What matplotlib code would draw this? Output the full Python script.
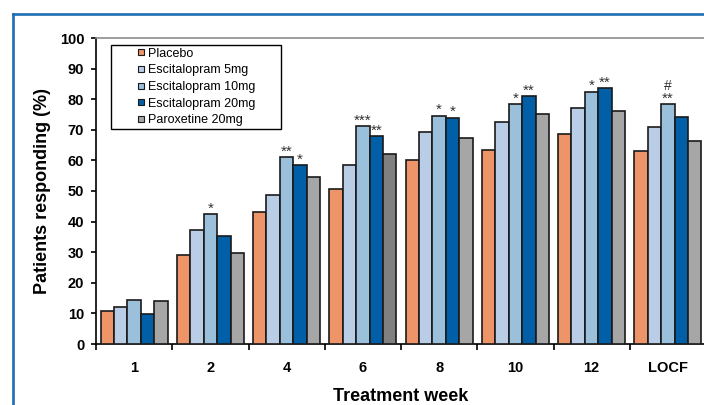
import matplotlib.pyplot as plt
import numpy as np
from matplotlib.lines import Line2D

plt.rcParams['font.family'] = ['Liberation Sans', 'DejaVu Sans']

# data
weeks = ['1', '2', '4', '6', '8', '10', '12', 'LOCF']
series = ['Placebo', 'Escitalopram 5mg', 'Escitalopram 10mg',
          'Escitalopram 20mg', 'Paroxetine 20mg']
placebo = [10.9, 29.2, 43.3, 50.7, 60.2, 63.3, 68.7, 63.0]
esc5 = [12.0, 37.4, 48.7, 58.6, 69.3, 72.5, 77.2, 70.8]
esc10 = [14.4, 42.4, 61.0, 71.1, 74.6, 78.3, 82.5, 78.3]
esc20 = [9.9, 35.4, 58.4, 68.0, 74.0, 81.0, 83.6, 74.1]
parox = [14.0, 29.8, 54.7, 62.2, 67.4, 75.2, 76.0, 66.2]

sig10 = ['', '*', '**', '***', '*', '*', '*', '**']
sig20 = ['', '', '*', '**', '*', '**', '**', '']
extra10 = ['', '', '', '', '', '', '', '#']

colors = ['#ED9468', '#B9CDE6', '#9BC0DC', '#005FA6', '#A6A6A6']
edge = '#1a1a1a'

fig = plt.figure(figsize=(7.04, 4.05), dpi=100)
ax = fig.add_axes([96 / 704, 1 - 344 / 405, 610 / 704, 306 / 405])

x = np.arange(len(weeks))
w = 0.176
values = [placebo, esc5, esc10, esc20, parox]
bars = []
for k, (vals, c) in enumerate(zip(values, colors)):
    b = ax.bar(x + (k - 2) * w, vals, w, color=c, edgecolor=edge,
               linewidth=1.2, zorder=3)
    bars.append(b)
# week 6 paroxetine bar is a darker grey in the original
bars[4][3].set_facecolor('#808080')

# significance marks
for i in range(len(weeks)):
    if sig10[i]:
        ax.annotate(sig10[i], (x[i], esc10[i]), xytext=(0, -1),
                    textcoords='offset points', ha='center', va='bottom',
                    fontsize=11, color='#333333')
    if sig20[i]:
        ax.annotate(sig20[i], (x[i] + w, esc20[i]), xytext=(0, -1),
                    textcoords='offset points', ha='center', va='bottom',
                    fontsize=11, color='#333333')
    if extra10[i]:
        ax.annotate(extra10[i], (x[i], esc10[i]), xytext=(0, 8),
                    textcoords='offset points', ha='center', va='bottom',
                    fontsize=10, color='#333333')

ax.set_xlim(-0.5, len(weeks) - 0.5)
ax.set_ylim(0, 100)
ax.set_yticks(np.arange(0, 101, 10))
ax.set_xticks(x)
ax.set_xticklabels(weeks)
ax.set_xticks(np.arange(-0.5, len(weeks), 1), minor=True)
ax.tick_params(axis='x', which='major', length=0, pad=12,
               labelsize=10.5)
ax.tick_params(axis='x', which='minor', length=4, width=1.2, direction='out')
ax.tick_params(axis='y', length=3.5, width=1.2, pad=5, labelsize=10.5)
for lab in ax.get_xticklabels() + ax.get_yticklabels():
    lab.set_fontweight('bold')

ax.spines['left'].set_linewidth(1.2)
ax.spines['bottom'].set_linewidth(1.2)
ax.spines['top'].set_color('#8c8c8c')
ax.spines['top'].set_linewidth(1.2)
ax.spines['right'].set_visible(False)

ax.set_ylabel('Patients responding (%)', fontsize=13, fontweight='bold')
ax.yaxis.set_label_coords(-0.074, 0.5)
ax.set_xlabel('Treatment week', fontsize=13, fontweight='bold')
ax.xaxis.set_label_coords(0.5, -0.143)

handles = [Line2D([], [], marker='s', ls='none', mfc=c, mec=edge,
                  ms=5, mew=0.8) for c in colors]
leg = ax.legend(handles, series, loc='upper left', mode='expand',
                bbox_to_anchor=(110.7 / 704, 1 - 127.3 / 405,
                                170 / 704, 82.8 / 405),
                bbox_transform=fig.transFigure, borderaxespad=0,
                fontsize=9, borderpad=0.25, labelspacing=0.37,
                handlelength=4.35, handletextpad=-1.62, fancybox=False,
                framealpha=1, edgecolor='black')
leg.get_frame().set_linewidth(1.0)

# blue frame of the figure panel
blue = '#1F6DB3'
fig.add_artist(Line2D([13.3 / 704, 13.3 / 704], [0, 1 - 13.8 / 405],
                      transform=fig.transFigure, color=blue, lw=1.9))
fig.add_artist(Line2D([12.6 / 704, 1], [1 - 13.8 / 405, 1 - 13.8 / 405],
                      transform=fig.transFigure, color=blue, lw=1.9))

fig.savefig('out.png', dpi=100)
